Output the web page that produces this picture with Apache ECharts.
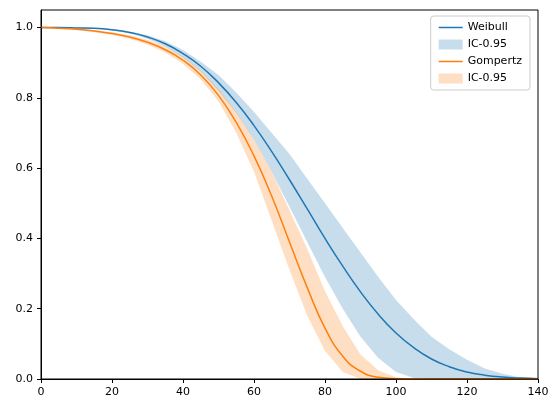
<!DOCTYPE html>
<html><head><meta charset="utf-8">
<script src="https://cdn.jsdelivr.net/npm/echarts@6/dist/echarts.min.js"></script>
<style>html,body{margin:0;padding:0;background:#fff}#c{width:560px;height:413px}</style>
</head><body><div id="c"></div>
<script>
const xs = [0,5,10,15,20,25,30,35,40,45,50,55,60,65,70,75,80,85,90,95,100,105,110,115,120,125,130,135,140];
const weibull = [1.0,1.0,0.999,0.998,0.994,0.986,0.973,0.954,0.926,0.890,0.843,0.787,0.721,0.647,0.567,0.484,0.400,0.321,0.248,0.184,0.131,0.089,0.057,0.035,0.020,0.011,0.0055,0.0026,0.001];
const weibullLow = [1.0,1.0,0.999,0.997,0.992,0.983,0.968,0.946,0.915,0.875,0.820,0.757,0.680,0.590,0.490,0.390,0.290,0.200,0.120,0.060,0.020,0.003,0,0,0,0,0,0,0];
const weibullHigh = [1.0,1.0,1.0,0.999,0.996,0.989,0.978,0.961,0.936,0.903,0.865,0.815,0.760,0.700,0.640,0.570,0.500,0.430,0.360,0.290,0.225,0.170,0.120,0.085,0.055,0.030,0.015,0.005,0];
const gompertz = [1.0,0.998,0.995,0.990,0.983,0.973,0.958,0.937,0.907,0.865,0.807,0.730,0.635,0.520,0.390,0.260,0.145,0.065,0.022,0.005,0.001,0,0,0,0,0,0,0,0];
const gompertzLow = [1.0,0.997,0.993,0.987,0.979,0.968,0.951,0.929,0.897,0.852,0.790,0.700,0.590,0.450,0.310,0.180,0.080,0.020,0,0,0,0,0,0,0,0,0,0,0];
const gompertzHigh = [1.0,0.999,0.997,0.993,0.987,0.978,0.965,0.946,0.917,0.878,0.825,0.760,0.680,0.590,0.480,0.370,0.250,0.150,0.070,0.025,0.005,0,0,0,0,0,0,0,0];
const xTicks = [0,20,40,60,80,100,120,140];
const yTicks = [0,0.2,0.4,0.6,0.8,1.0];

const pts = a => xs.map((x,i)=>[x,a[i]]);
const bandData = (l,h) => xs.map((x,i)=>[x,l[i],h[i]]);
const blueBand='rgba(31,119,180,0.25)', orBand='rgba(255,127,14,0.25)';
function bandSeries(name, l, h, color){
  return {type:'custom',name,color,data:bandData(l,h),encode:{x:0,y:[1,2]},
    renderItem:(params,api)=>{
      if(params.dataIndex!==0) return null;
      const up=[],lo=[];
      for(let i=0;i<xs.length;i++){up.push(api.coord([xs[i],h[i]]));lo.push(api.coord([xs[i],l[i]]));}
      return {type:'polygon',shape:{points:up.concat(lo.reverse())},style:{fill:color},silent:true};
    }};
}
const ch = echarts.init(document.getElementById('c'));
ch.setOption({
  animation:false,
  grid:{left:41,right:22,top:10,bottom:34},
  xAxis:{type:'value',min:0,max:140,interval:20,
    axisLine:{lineStyle:{color:'#000'}},axisTick:{length:4,lineStyle:{color:'#000'},customValues:xTicks},
    axisLabel:{color:'#000',fontSize:11,fontFamily:'DejaVu Sans',customValues:xTicks},splitLine:{show:false}},
  yAxis:{type:'value',min:0,max:1.05,
    axisLine:{show:true,lineStyle:{color:'#000'}},axisTick:{show:true,length:4,lineStyle:{color:'#000'},customValues:yTicks},
    axisLabel:{color:'#000',fontSize:11,fontFamily:'DejaVu Sans',customValues:yTicks,formatter:v=>v.toFixed(1)},splitLine:{show:false}},
  legend:{right:30,top:16,orient:'vertical',itemGap:6,itemWidth:24,itemHeight:10,
    backgroundColor:'#fff',borderColor:'#ccc',borderWidth:1,borderRadius:3,padding:[6,8,6,8],
    textStyle:{fontSize:11,fontFamily:'DejaVu Sans',color:'#000'},
    data:[{name:'Weibull',icon:'path://M0,5L24,5L24,6.5L0,6.5Z'},{name:'IC-0.95',icon:'rect'},
          {name:'Gompertz',icon:'path://M0,5L24,5L24,6.5L0,6.5Z'},{name:'IC-0.95\u200b',icon:'rect'}]},
  series:[
    bandSeries('IC-0.95',weibullLow,weibullHigh,blueBand),
    bandSeries('IC-0.95\u200b',gompertzLow,gompertzHigh,orBand),
    {type:'line',name:'Weibull',data:pts(weibull),symbol:'none',smooth:true,color:'#1f77b4',lineStyle:{width:1.5},z:5},
    {type:'line',name:'Gompertz',data:pts(gompertz),symbol:'none',smooth:true,color:'#ff7f0e',lineStyle:{width:1.5},z:5}
  ],
  graphic:[{type:'rect',shape:{x:41,y:10,width:497,height:369},style:{fill:'none',stroke:'#000',lineWidth:1},silent:true,z:10}]
});
</script></body></html>
